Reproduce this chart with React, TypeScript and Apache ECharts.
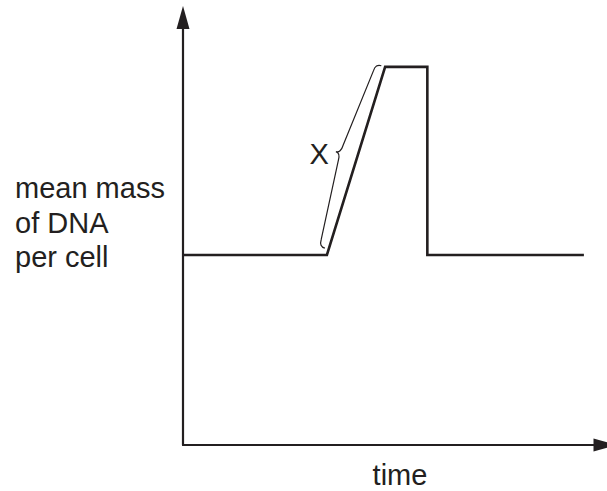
import React, { useEffect, useRef } from "react";
import * as echarts from "echarts";

// time points (x) and mean mass of DNA per cell (y)
const timePoints = [0, 34.1, 47.9, 57.9, 57.9, 95.0];
const dnaMass = [1, 1, 1.99, 1.99, 1, 1];
// the brace "X" spans the S-phase rise
const braceSpan = [[34.1, 1, 47.9, 1.99]];
const yAxisLabel = "mean mass\nof DNA\nper cell";
const xAxisLabel = "time";
const braceLabel = "X";

const INK = "#231f20";
const FONT = '"Liberation Sans", Arial, Helvetica, sans-serif';
const FS = 29;

export default function App() {
  const ref = useRef<HTMLDivElement>(null);
  useEffect(() => {
    document.body.style.margin = "0";
    if (!ref.current) return;
    const chart = echarts.init(ref.current, null, { renderer: "svg" });
    const axisCommon = {
      type: "value" as const,
      axisLine: {
        show: true,
        symbol: ["none", "triangle"],
        symbolSize: [13, 23],
        lineStyle: { color: INK, width: 2.2 },
      },
      axisTick: { show: false },
      axisLabel: { show: false },
      splitLine: { show: false },
    };
    chart.setOption({
      animation: false,
      grid: { left: 183, right: 2, top: 17.5, bottom: 46 },
      xAxis: { ...axisCommon, min: 0, max: 100 },
      yAxis: { ...axisCommon, min: 0, max: 2.25 },
      graphic: [
        {
          type: "text",
          x: 15,
          y: 171,
          style: {
            text: yAxisLabel,
            font: `${FS}px ${FONT}`,
            lineHeight: 34.5,
            fill: INK,
            align: "left",
            verticalAlign: "top",
          },
        },
        {
          type: "text",
          x: 400,
          y: 475,
          style: {
            text: xAxisLabel,
            font: `${FS}px ${FONT}`,
            fill: INK,
            align: "center",
            verticalAlign: "middle",
          },
        },
      ],
      series: [
        {
          type: "line",
          data: timePoints.map((t, i) => [t, dnaMass[i]]),
          symbol: "none",
          lineStyle: { color: INK, width: 2.6, join: "miter" },
        },
        {
          type: "custom",
          data: braceSpan,
          encode: { x: [0, 2], y: [1, 3] },
          renderItem: (params: any, api: any) => {
            const p1 = api.coord([api.value(0), api.value(1)]);
            const p2 = api.coord([api.value(2), api.value(3)]);
            const dx = p2[0] - p1[0];
            const dy = p2[1] - p1[1];
            const len = Math.hypot(dx, dy);
            const ux = dx / len;
            const uy = dy / len;
            const nx = uy;
            const ny = -ux;
            const P = (a: number, n: number) =>
              `${(p1[0] + a * ux + n * nx).toFixed(2)} ${(p1[1] + a * uy + n * ny).toFixed(2)}`;
            const a0 = len * 0.03;
            const a1 = len * 1.0;
            const am = (a0 + a1) / 2;
            const e = 4;
            const b0 = 10;
            const b1 = 17;
            const c = 22;
            const rh = 7;
            const rc = 8;
            const d =
              `M ${P(a0, e)} Q ${P(a0, b0)} ${P(a0 + rh, b0)} ` +
              `L ${P(am - rc, b1)} Q ${P(am, b1)} ${P(am, c)} ` +
              `Q ${P(am, b1)} ${P(am + rc, b1)} ` +
              `L ${P(a1 - rh, b0)} Q ${P(a1, b0)} ${P(a1, e)}`;
            const cx = p1[0] + am * ux + c * nx;
            const cy = p1[1] + am * uy + c * ny;
            return {
              type: "group",
              children: [
                {
                  type: "path",
                  shape: { pathData: d },
                  style: { fill: "none", stroke: INK, lineWidth: 1.2 },
                },
                {
                  type: "text",
                  x: cx - 7,
                  y: cy + 2,
                  style: {
                    text: braceLabel,
                    font: `${FS}px ${FONT}`,
                    fill: INK,
                    align: "right",
                    verticalAlign: "middle",
                  },
                },
              ],
            };
          },
        },
      ],
    });
    return () => chart.dispose();
  }, []);
  return (
    <div
      ref={ref}
      style={{ position: "absolute", left: 0, top: 0, width: 607, height: 491 }}
    />
  );
}
